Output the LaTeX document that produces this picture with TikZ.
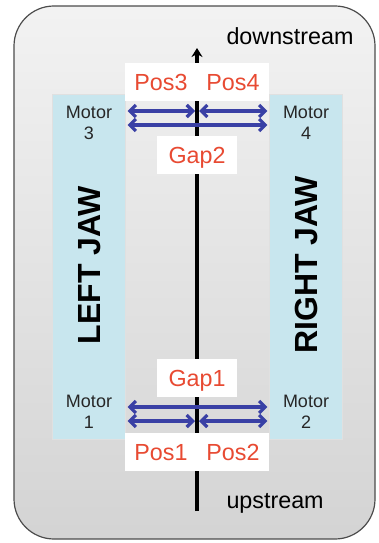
\documentclass[tikz,border=0pt]{standalone}
\usepackage{fontspec}
\setmainfont{Liberation Sans}
\usetikzlibrary{arrows.meta,positioning}

\definecolor{posred}{RGB}{232,74,50}
\definecolor{gapblue}{RGB}{58,64,165}
\definecolor{jawblue}{RGB}{200,230,238}

\begin{document}
\begin{tikzpicture}[
        x=1bp,
        y=-1bp,
        frame/.style={draw=black!70, line width=1.2bp, rounded corners=40bp, top color=black!5, bottom color=black!17},
        jaw/.style={draw=black!12, fill=jawblue, inner sep=0pt, minimum width=73bp, minimum height=345bp},
        jawname/.style={rotate=90, font=\fontsize{32bp}{36bp}\selectfont\bfseries},
        motor/.style={align=center, text=black!85, font=\fontsize{18bp}{20.5bp}\selectfont},
        tag/.style={fill=white, text=posred, inner sep=0pt, text height=16.7bp, text depth=0pt, minimum height=38bp, font=\fontsize{23.3bp}{28bp}\selectfont},
        flow/.style={font=\fontsize{23.3bp}{28bp}\selectfont},
        beam/.style={line width=3.2bp, -{Stealth[length=9bp,width=11bp]}},
        gap/.style={gapblue, line width=3.2bp, {Straight Barb[length=6bp,width=12bp]}-{Straight Barb[length=6bp,width=12bp]}, shorten <=2bp, shorten >=2bp}
    ]
        \useasboundingbox (0,0) rectangle (378,543);
        \draw[frame] (14,6) rectangle (375,539);

        % jaws
        \node[jaw] (ljaw) at (89,266.5) {};
        \node[jaw] (rjaw) at (306,266.5) {};
        \node[jawname] (ljaw name) at (90,265) {LEFT JAW};
        \node[jawname] (rjaw name) at (306,265) {RIGHT JAW};

        % beam axis
        \coordinate (beam in) at (197,511);
        \coordinate (beam out) at (197,48);
        \draw[beam] (beam in) -- (beam out);
        \node[flow, anchor=base west] (down label) at (223,44.5) {downstream};
        \node[flow, anchor=base west] (up label) at (223,508) {upstream};

        % labels
        \node[tag, minimum width=72.5bp] (pos3) at (161,82) {Pos3};
        \node[tag, minimum width=72.5bp] (pos4) at (233,82) {Pos4};
        \node[tag, minimum width=80bp] (gap2) at (197,155) {Gap2};
        \node[tag, minimum width=80bp] (gap1) at (197,378) {Gap1};
        \node[tag, minimum width=72.5bp] (pos1) at (161,452) {Pos1};
        \node[tag, minimum width=72.5bp] (pos2) at (233,452) {Pos2};

        \node[motor] (motor3) at (89,123) {Motor\\3};
        \node[motor] (motor4) at (306,123) {Motor\\4};
        \node[motor] (motor1) at (89,412) {Motor\\1};
        \node[motor] (motor2) at (306,412) {Motor\\2};

        % arrows
        \coordinate (pos top) at (197,111);
        \coordinate (gap top) at (197,125);
        \coordinate (gap bot) at (197,407);
        \coordinate (pos bot) at (197,421);

        \draw[gap] (ljaw.east |- pos top) -- (pos top);
        \draw[gap] (pos top) -- (rjaw.west |- pos top);
        \draw[gap] (ljaw.east |- gap top) -- (rjaw.west |- gap top);
        \draw[gap] (ljaw.east |- gap bot) -- (rjaw.west |- gap bot);
        \draw[gap] (ljaw.east |- pos bot) -- (pos bot);
        \draw[gap] (pos bot) -- (rjaw.west |- pos bot);
    \end{tikzpicture}
\end{document}
